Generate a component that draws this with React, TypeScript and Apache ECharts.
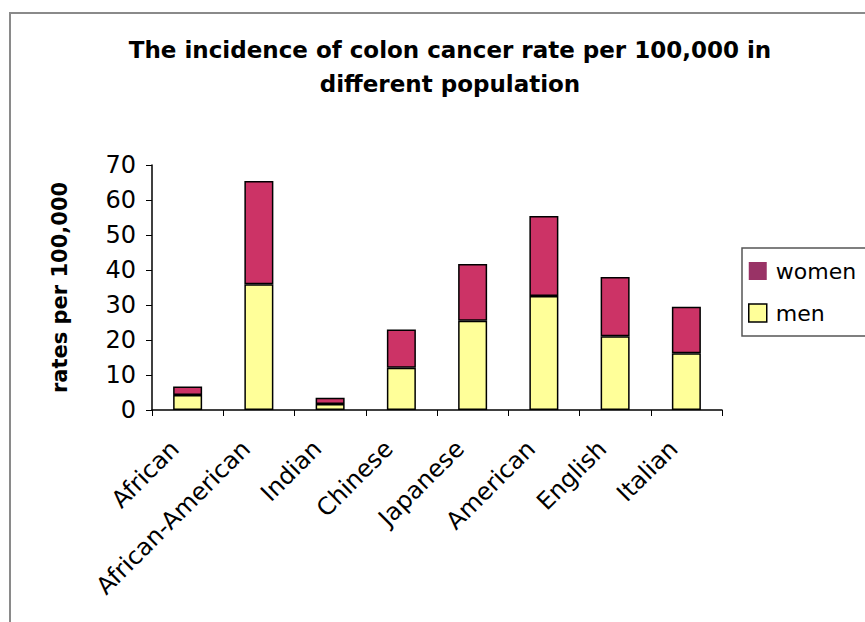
import React, { useEffect, useRef } from "react";
import * as echarts from "echarts";

const categories = ["African", "African-American", "Indian", "Chinese", "Japanese", "American", "English", "Italian"];
const menValues = [4.3, 35.9, 1.7, 12.1, 25.5, 32.6, 21.1, 16.2];
const womenValues = [2.4, 29.5, 1.8, 10.9, 16.2, 22.8, 16.9, 13.3];
const titleText = "The incidence of colon cancer rate per 100,000 in\ndifferent population";
const yAxisName = "rates per 100,000";

export default function App() {
  const ref = useRef<HTMLDivElement>(null);
  useEffect(() => {
    if (!ref.current) return;
    const chart = echarts.init(ref.current, null, { renderer: "svg" });
    const font = "DejaVu Sans, sans-serif";
    chart.setOption({
      animation: false,
      backgroundColor: "#fff",
      textStyle: { fontFamily: font },
      title: {
        text: titleText,
        left: 445,
        textAlign: "center",
        top: 28,
        textStyle: { fontSize: 23, fontWeight: "bold", color: "#000", lineHeight: 34, fontFamily: font },
      },
      graphic: [
        {
          type: "rect",
          shape: { x: 10, y: 13, width: 900, height: 700 },
          style: { fill: "none", stroke: "#8a8a8a", lineWidth: 2 },
          z: -1,
        },
      ],
      legend: {
        orient: "vertical",
        left: 742,
        top: 248,
        padding: [12, 40, 12, 6],
        itemGap: 20,
        itemWidth: 18,
        itemHeight: 18,
        borderColor: "#555",
        borderWidth: 1.5,
        textStyle: { fontSize: 22, color: "#000", fontFamily: font, padding: [0, 0, 0, 4] },
        data: [
          { name: "women", icon: "rect", itemStyle: { color: "#993366", borderWidth: 0 } },
          { name: "men", icon: "rect", itemStyle: { color: "#FFFF99", borderColor: "#000", borderWidth: 1.5 } },
        ],
      },
      grid: { left: 152, right: 143, top: 165, bottom: 212, containLabel: false },
      xAxis: {
        type: "category",
        data: categories,
        axisLine: { lineStyle: { color: "#000", width: 1.5 } },
        axisTick: { show: true, length: 6, lineStyle: { color: "#000" } },
        axisLabel: { rotate: 45, fontSize: 24, color: "#000", margin: 22, padding: [0, 18, 0, 0], fontFamily: font },
      },
      yAxis: {
        type: "value",
        min: 0,
        max: 70,
        interval: 10,
        name: yAxisName,
        nameLocation: "middle",
        nameRotate: 90,
        nameGap: 82,
        nameTextStyle: { fontSize: 21, fontWeight: "bold", color: "#000", fontFamily: font },
        axisLine: { show: true, lineStyle: { color: "#000", width: 1.5 } },
        axisTick: { show: true, length: 6, lineStyle: { color: "#000" } },
        axisLabel: { fontSize: 24, color: "#000", margin: 16, fontFamily: font },
        splitLine: { show: false },
      },
      series: [
        {
          name: "men",
          type: "bar",
          stack: "total",
          data: menValues,
          barWidth: 29,
          itemStyle: { color: "#FFFF99", borderColor: "#000", borderWidth: 1.5 },
        },
        {
          name: "women",
          type: "bar",
          stack: "total",
          data: womenValues,
          barWidth: 29,
          itemStyle: { color: "#CC3366", borderColor: "#000", borderWidth: 1.5 },
        },
      ],
    });
    return () => chart.dispose();
  }, []);
  return <div ref={ref} style={{ width: 865, height: 622, position: "absolute", left: 0, top: 0 }} />;
}
